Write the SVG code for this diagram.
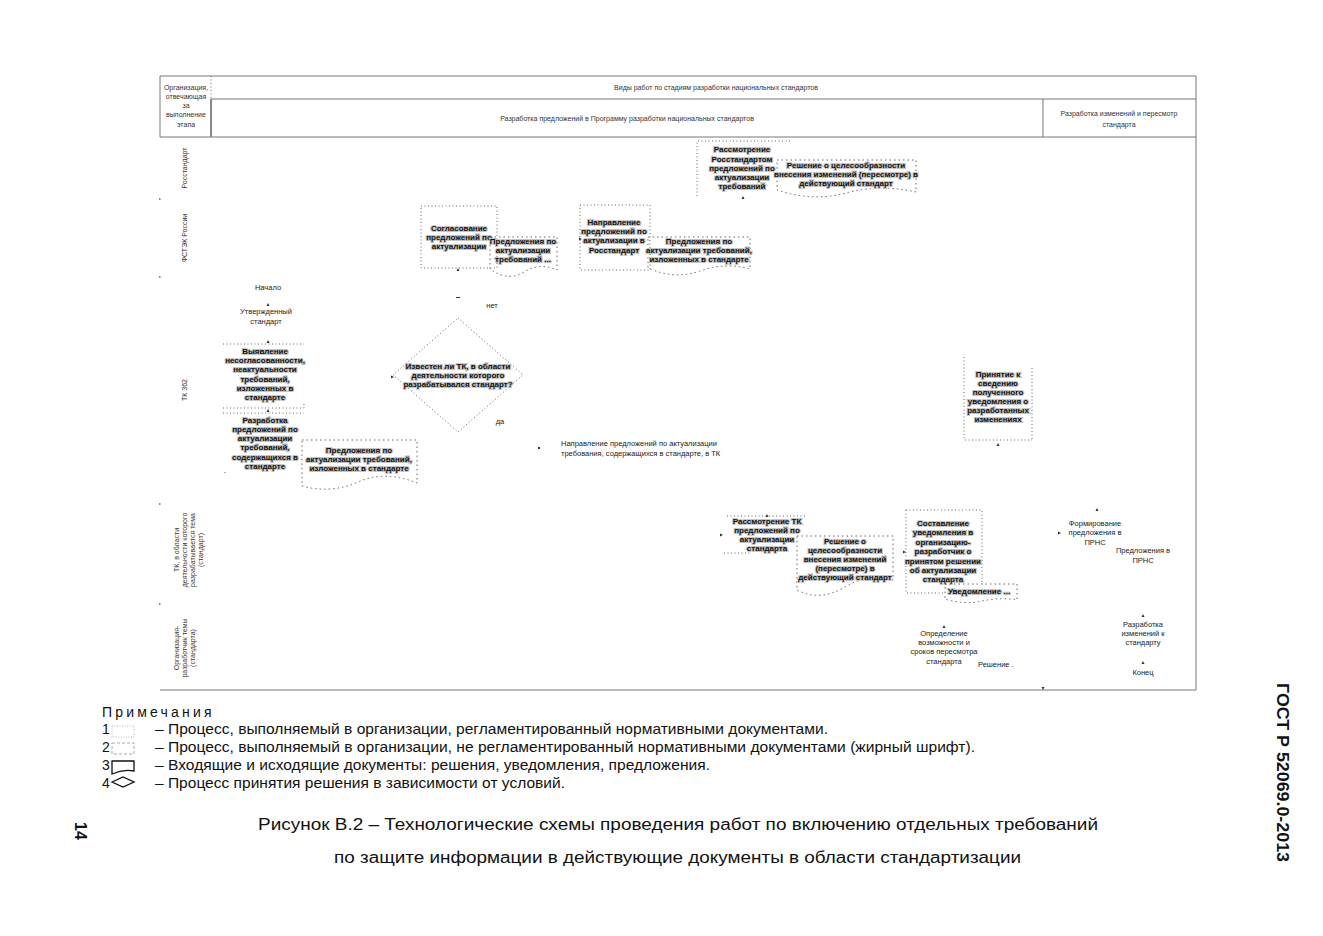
<svg xmlns="http://www.w3.org/2000/svg" width="1323" height="936" viewBox="0 0 1323 936">
<style>
.frame{fill:none;stroke:#777;stroke-width:1}
.thick{fill:none;stroke:#888;stroke-width:2}
.proc{fill:none;stroke:#666;stroke-width:1;stroke-dasharray:1 2.5}
.doc{fill:none;stroke:#666;stroke-width:1;stroke-dasharray:1.5 3}
.h{font-family:"Liberation Sans",Arial,sans-serif;font-size:7px;fill:#333;text-anchor:middle}
.n{font-family:"Liberation Sans",Arial,sans-serif;font-size:7.5px;fill:#222;text-anchor:middle}
.nl{font-family:"Liberation Sans",Arial,sans-serif;font-size:7.5px;fill:#222}
.b{font-family:"Liberation Sans",Arial,sans-serif;font-size:8px;font-weight:bold;fill:#111;stroke:#c4c4c4;stroke-width:2.2;paint-order:stroke;text-anchor:middle}
.note{font-family:"Liberation Sans",Arial,sans-serif;font-size:14px;fill:#111}
.cap{font-family:"Liberation Sans",Arial,sans-serif;font-size:16px;fill:#111}
.tick{fill:#333}
</style>
<rect width="1323" height="936" fill="#fff"/>

<g id="table">
  <line class="frame" x1="160" y1="76" x2="1196" y2="76"/>
  <line class="frame" x1="211" y1="99" x2="1196" y2="99"/>
  <line class="frame" x1="160" y1="137" x2="1196" y2="137"/>
  <line class="frame" x1="160" y1="76" x2="160" y2="137"/>
  <line class="frame" x1="1196" y1="76" x2="1196" y2="690"/>
  <line class="frame" x1="160" y1="690" x2="1196" y2="690"/>
  <line class="proc" x1="211" y1="76" x2="211" y2="99"/>
  <line class="thick" x1="211" y1="99" x2="211" y2="137"/>
  <line class="frame" x1="1043" y1="99" x2="1043" y2="137"/>
  <text class="h"><tspan x="186" y="90">Организация,</tspan><tspan x="186" y="99">отвечающая</tspan><tspan x="186" y="108">за</tspan><tspan x="186" y="117">выполнение</tspan><tspan x="186" y="127">этапа</tspan></text>
  <text class="h" x="716" y="90">Виды работ по стадиям разработки национальных стандартов</text>
  <text class="h" x="627" y="121">Разработка предложений в Программу разработки национальных стандартов</text>
  <text class="h"><tspan x="1119" y="116">Разработка изменений и пересмотр</tspan><tspan x="1119" y="127">стандарта</tspan></text>
  <g fill="#888">
    <rect x="159" y="198" width="1.5" height="2"/>
    <rect x="159" y="276" width="1.5" height="2"/>
    <rect x="159" y="503" width="1.5" height="2"/>
    <rect x="159" y="603" width="1.5" height="2"/>
  </g>
</g>

<g id="lanes">
  <text class="h" transform="translate(187,168) rotate(-90)">Росстандарт</text>
  <text class="h" transform="translate(187,238) rotate(-90)">ФСТЭК России</text>
  <text class="h" transform="translate(187,390) rotate(-90)">ТК 362</text>
  <text class="h" transform="translate(179,550) rotate(-90)"><tspan x="0" y="0">ТК, в области</tspan><tspan x="0" y="8">деятельности которого</tspan><tspan x="0" y="16">разрабатывается тема</tspan><tspan x="0" y="24">(стандарт)</tspan></text>
  <text class="h" transform="translate(179,648) rotate(-90)"><tspan x="0" y="0">Организация-</tspan><tspan x="0" y="8">разработчик темы</tspan><tspan x="0" y="16">(стандарта)</tspan></text>
</g>

<g id="connectors">
  <path class="tick" d="M741.5,199 l1.5,-3 l1.5,3z"/>
  <path class="tick" d="M456.5,271 l1.5,-3 l1.5,3z"/>
  <path class="tick" d="M579,237.5 l3,1.5 l-3,1.5z"/>
  <rect class="tick" x="456" y="297" width="4" height="1"/>
  <path class="tick" d="M266.5,306 l1.5,-3 l1.5,3z"/>
  <path class="tick" d="M266.5,343 l1.5,-3 l1.5,3z"/>
  <path class="tick" d="M266.5,412 l1.5,-3 l1.5,3z"/>
  <path class="tick" d="M391,375.5 l3,1.5 l-3,1.5z"/>
  <rect class="tick" x="538" y="447" width="2" height="2"/>
  <path class="tick" d="M996.5,446 l1.5,-3 l1.5,3z"/>
  <path class="tick" d="M765.5,517 l1.5,-3 l1.5,3z"/>
  <path class="tick" d="M720,533.5 l3,1.5 l-3,1.5z"/>
  <path class="tick" d="M903,550.5 l3,1.5 l-3,1.5z"/>
  <path class="tick" d="M942.5,628 l1.5,-3 l1.5,3z"/>
  <path class="tick" d="M1095.5,511 l1.5,-3 l1.5,3z"/>
  <path class="tick" d="M1058,531.5 l3,1.5 l-3,1.5z"/>
  <path class="tick" d="M1141.5,617 l1.5,-3 l1.5,3z"/>
  <path class="tick" d="M1141.5,664 l1.5,-3 l1.5,3z"/>
  <path class="tick" d="M1041.5,687 l1.5,3 l1.5,-3z"/>
</g>

<g id="n-rassmotrenie-rst">
  <path class="proc" d="M697,196 V141 H790"/>
  <text class="b"><tspan x="742" y="152">Рассмотрение</tspan><tspan x="742" y="162">Росстандартом</tspan><tspan x="742" y="171">предложений по</tspan><tspan x="742" y="180">актуализации</tspan><tspan x="742" y="189">требований</tspan></text>
</g>
<g id="n-reshenie-rst">
  <path class="doc" d="M777,160 H916 V192 Q880,184 846,193 T777,190 Z"/>
  <text class="b"><tspan x="846" y="168">Решение о целесообразности</tspan><tspan x="846" y="177">внесения изменений (пересмотре) в</tspan><tspan x="846" y="186">действующий стандарт</tspan></text>
</g>

<g id="n-soglasovanie">
  <rect class="proc" x="421" y="206" width="76" height="62"/>
  <text class="b"><tspan x="459" y="231">Согласование</tspan><tspan x="459" y="240">предложений по</tspan><tspan x="459" y="249">актуализации</tspan></text>
</g>
<g id="n-predl-fstek">
  <path class="doc" d="M490,237 H557 V270 Q540,262 524,272 T490,269 Z"/>
  <text class="b"><tspan x="523" y="244">Предложения по</tspan><tspan x="523" y="253">актуализации</tspan><tspan x="523" y="262">требований ...</tspan></text>
</g>
<g id="n-napravlenie-rst">
  <rect class="proc" x="580" y="205" width="70" height="65"/>
  <text class="b"><tspan x="614" y="225">Направление</tspan><tspan x="614" y="234">предложений по</tspan><tspan x="614" y="243">актуализации в</tspan><tspan x="614" y="253">Росстандарт</tspan></text>
</g>
<g id="n-predl-rst">
  <path class="doc" d="M648,237 H750 V269 Q725,262 700,271 T648,268 Z"/>
  <text class="b"><tspan x="699" y="244">Предложения по</tspan><tspan x="699" y="253">актуализации требований,</tspan><tspan x="699" y="262">изложенных в стандарте</tspan></text>
</g>

<g id="n-nachalo">
  <text class="n" x="268" y="290">Начало</text>
</g>
<g id="n-utverzhd">
  <text class="n"><tspan x="266" y="314">Утвержденный</tspan><tspan x="266" y="324">стандарт</tspan></text>
</g>
<g id="n-vyyavlenie">
  <path class="proc" d="M223,344 H304 M304,404 V408 M223,408 H304"/>
  <text class="b"><tspan x="265" y="354">Выявление</tspan><tspan x="265" y="363">несогласованности,</tspan><tspan x="265" y="372">неактуальности</tspan><tspan x="265" y="382">требований,</tspan><tspan x="265" y="391">изложенных в</tspan><tspan x="265" y="400">стандарте</tspan></text>
</g>
<g id="n-razrabotka-predl">
  <path class="proc" d="M223,413 H304 M225,472 V475"/>
  <text class="b"><tspan x="265" y="423">Разработка</tspan><tspan x="265" y="432">предложений по</tspan><tspan x="265" y="441">актуализации</tspan><tspan x="265" y="450">требований,</tspan><tspan x="265" y="460">содержащихся в</tspan><tspan x="265" y="469">стандарте</tspan></text>
</g>
<g id="n-predl-tk362">
  <path class="doc" d="M302,440 H417 V483 Q385,470 358,482 T302,486 Z"/>
  <text class="b"><tspan x="359" y="453">Предложения по</tspan><tspan x="359" y="462">актуализации требований,</tspan><tspan x="359" y="471">изложенных в стандарте</tspan></text>
</g>
<g id="n-decision">
  <path class="proc" d="M458,318 L523,375 L458,432 L393,375 Z"/>
  <text class="b"><tspan x="458" y="369">Известен ли ТК, в области</tspan><tspan x="458" y="378">деятельности которого</tspan><tspan x="458" y="387">разрабатывался стандарт?</tspan></text>
  <text class="n" x="492" y="308">нет</text>
  <text class="n" x="500" y="424">да</text>
</g>
<g id="n-napravlenie-tk">
  <text class="nl"><tspan x="561" y="446">Направление предложений по актуализации</tspan><tspan x="561" y="456">требования, содержащихся в стандарте, в ТК</tspan></text>
</g>
<g id="n-prinyatie">
  <path class="proc" d="M964,357 V440 H1032 M1032,368 V440"/>
  <text class="b"><tspan x="998" y="377">Принятие к</tspan><tspan x="998" y="386">сведению</tspan><tspan x="998" y="395">полученного</tspan><tspan x="998" y="404">уведомления о</tspan><tspan x="998" y="413">разработанных</tspan><tspan x="998" y="422">изменениях</tspan></text>
</g>

<g id="n-rassmotrenie-tk">
  <path class="proc" d="M727,516 H805 M724,553 H750"/>
  <text class="b"><tspan x="767" y="524">Рассмотрение ТК</tspan><tspan x="767" y="533">предложений по</tspan><tspan x="767" y="542">актуализации</tspan><tspan x="767" y="551">стандарта</tspan></text>
</g>
<g id="n-reshenie-tk">
  <path class="doc" d="M797,536 H893 V580 Q870,572 845,587 T797,590 Z"/>
  <text class="b"><tspan x="845" y="544">Решение о</tspan><tspan x="845" y="553">целесообразности</tspan><tspan x="845" y="562">внесения изменений</tspan><tspan x="845" y="571">(пересмотре) в</tspan><tspan x="845" y="580">действующий стандарт</tspan></text>
</g>
<g id="n-sostavlenie">
  <path class="proc" d="M906,510 H982 V583 M906,510 V593 H945"/>
  <text class="b"><tspan x="943" y="526">Составление</tspan><tspan x="943" y="535">уведомления в</tspan><tspan x="943" y="545">организацию-</tspan><tspan x="943" y="554">разработчик о</tspan><tspan x="943" y="564">принятом решении</tspan><tspan x="943" y="573">об актуализации</tspan><tspan x="943" y="582">стандарта</tspan></text>
</g>
<g id="n-uvedomlenie">
  <path class="doc" d="M945,584 H1017 V600 Q1000,597 982,601 T945,599 Z"/>
  <text class="b" x="979" y="594">Уведомление ...</text>
</g>
<g id="n-formirovanie">
  <text class="n"><tspan x="1095" y="526">Формирование</tspan><tspan x="1095" y="535">предложения в</tspan><tspan x="1095" y="545">ПРНС</tspan></text>
</g>
<g id="n-predl-prns">
  <text class="n"><tspan x="1143" y="553">Предложения в</tspan><tspan x="1143" y="563">ПРНС</tspan></text>
</g>
<g id="n-opredelenie">
  <text class="n"><tspan x="944" y="636">Определение</tspan><tspan x="944" y="645">возможности и</tspan><tspan x="944" y="654">сроков пересмотра</tspan><tspan x="944" y="664">стандарта</tspan></text>
</g>
<g id="n-reshenie-org">
  <text class="nl" x="978" y="667">Решение .</text>
</g>
<g id="n-razrabotka-izm">
  <text class="n"><tspan x="1143" y="627">Разработка</tspan><tspan x="1143" y="636">изменений к</tspan><tspan x="1143" y="645">стандарту</tspan></text>
</g>
<g id="n-konec">
  <text class="n" x="1143" y="675">Конец</text>
</g>

<g id="notes">
  <text class="note" x="102" y="717" letter-spacing="3.2">Примечания</text>
  <text class="note" x="102" y="734">1</text>
  <rect x="112" y="726" width="22" height="11" fill="none" stroke="#bbb" stroke-dasharray="1 1.5"/>
  <text class="note" x="155" y="734" textLength="673" lengthAdjust="spacingAndGlyphs">– Процесс, выполняемый в организации, регламентированный нормативными документами.</text>
  <text class="note" x="102" y="752">2</text>
  <rect x="112" y="743" width="22" height="11" fill="none" stroke="#aaa" stroke-dasharray="3 2"/>
  <text class="note" x="155" y="752" textLength="820" lengthAdjust="spacingAndGlyphs">– Процесс, выполняемый в организации, не регламентированный нормативными документами (жирный шрифт).</text>
  <text class="note" x="102" y="770">3</text>
  <path d="M112,761 H134 V771 Q123,769 112,774 Z" fill="none" stroke="#111" stroke-width="1.3"/>
  <text class="note" x="155" y="770" textLength="555" lengthAdjust="spacingAndGlyphs">– Входящие и исходящие документы: решения, уведомления, предложения.</text>
  <text class="note" x="102" y="788">4</text>
  <path d="M112,782 L123,777 L134,782 L123,787 Z" fill="none" stroke="#111" stroke-width="1.3"/>
  <text class="note" x="155" y="788" textLength="410" lengthAdjust="spacingAndGlyphs">– Процесс принятия решения в зависимости от условий.</text>
</g>

<g id="caption">
  <text class="cap" x="258" y="830" textLength="840" lengthAdjust="spacingAndGlyphs">Рисунок В.2 – Технологические схемы проведения работ по включению отдельных требований</text>
  <text class="cap" x="334" y="863" textLength="687" lengthAdjust="spacingAndGlyphs">по защите информации в действующие документы в области стандартизации</text>
  <text class="cap" transform="translate(75,822) rotate(90)" font-weight="bold" font-size="15">14</text>
  <text class="cap" transform="translate(1277,683) rotate(90)" font-weight="bold" font-size="15" textLength="179" lengthAdjust="spacingAndGlyphs">ГОСТ Р 52069.0-2013</text>
</g>
</svg>
